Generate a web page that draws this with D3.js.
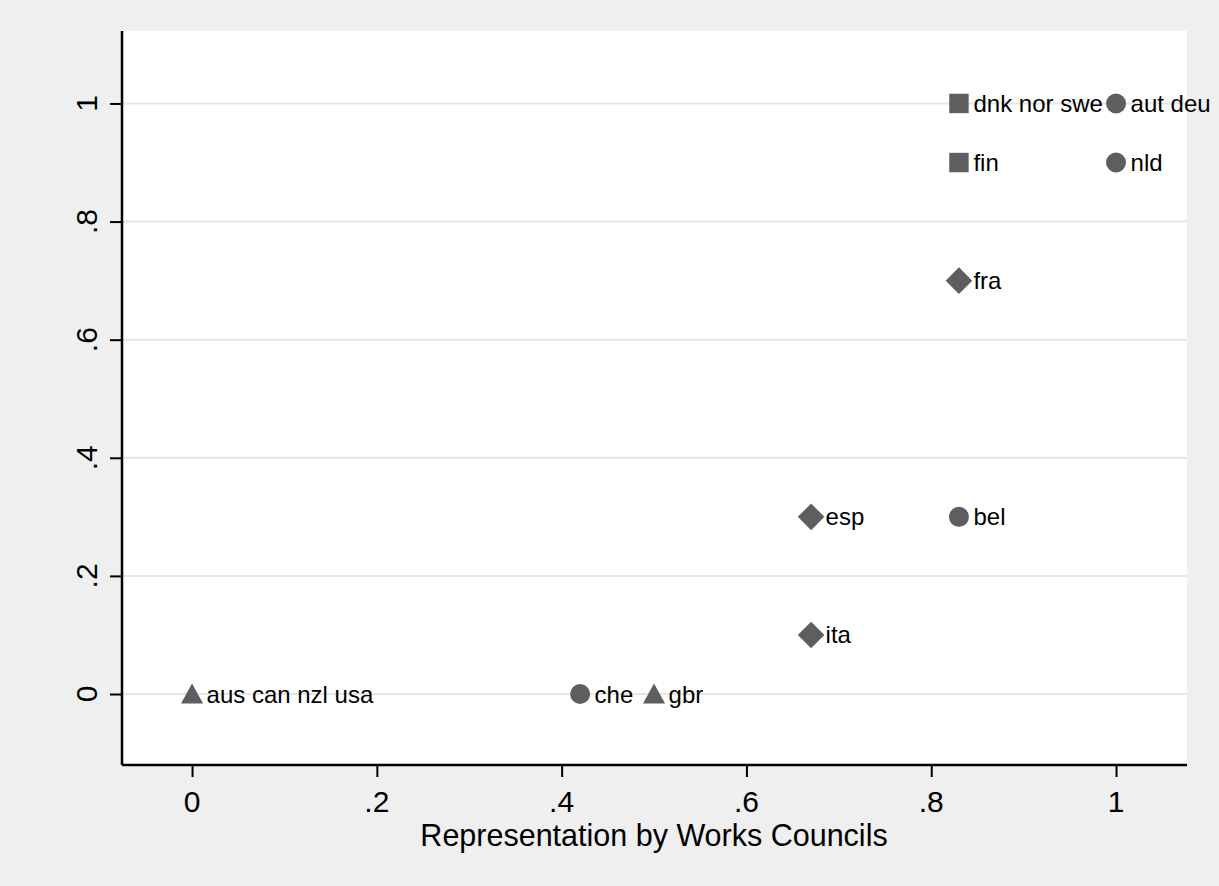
<!DOCTYPE html>
<html>
<head>
<meta charset="utf-8">
<script src="https://cdn.jsdelivr.net/npm/d3@7"></script>
<style>
  body { margin: 0; background: #efefef; }
  svg { display: block; }
</style>
</head>
<body>
<svg id="chart" width="1219" height="886"></svg>
<script>
// 数据：国家标签、x 值、y 值、标记形状
const labels = ['aus can nzl usa', 'che', 'gbr', 'ita', 'esp', 'bel', 'fra', 'fin', 'dnk nor swe', 'aut deu', 'nld'];
const xValues = [0, 0.42, 0.5, 0.67, 0.67, 0.83, 0.83, 0.83, 0.83, 1, 1];
const yValues = [0, 0, 0, 0.1, 0.3, 0.3, 0.7, 0.9, 1, 1, 0.9];
const shapes = ['triangle', 'circle', 'triangle', 'diamond', 'diamond', 'circle', 'diamond', 'square', 'square', 'circle', 'circle'];
const xTicks = [0, 0.2, 0.4, 0.6, 0.8, 1];
const yTicks = [0, 0.2, 0.4, 0.6, 0.8, 1];
const xTitle = 'Representation by Works Councils';

const svg = d3.select('#chart');
const width = +svg.attr('width'), height = +svg.attr('height');
const font = 'Liberation Sans, Arial, sans-serif';

// 绘图区域
const plot = {left: 122, right: 1187, top: 31, bottom: 765};

// x: 0 -> 192, 1 -> 1116 ; y: 0 -> 693.5, 1 -> 103
const x = d3.scaleLinear().domain([-0.0758, 1.0768]).range([plot.left, plot.right]);
const y = d3.scaleLinear().domain([-0.1202, 1.1227]).range([plot.bottom, plot.top]);

const fmt = d => d === 0 ? '0' : d === 1 ? '1' : String(d).replace(/^0/, '');

svg.append('rect')
  .attr('width', width).attr('height', height)
  .attr('fill', '#efefef');

svg.append('rect')
  .attr('x', plot.left).attr('y', plot.top)
  .attr('width', plot.right - plot.left).attr('height', plot.bottom - plot.top)
  .attr('fill', '#ffffff');

// 网格线
svg.append('g')
  .selectAll('line')
  .data(yTicks)
  .join('line')
  .attr('x1', plot.left).attr('x2', plot.right)
  .attr('y1', d => y(d)).attr('y2', d => y(d))
  .attr('stroke', '#e6e6e6')
  .attr('stroke-width', 2);

// 坐标轴
const yAxis = svg.append('g')
  .attr('transform', `translate(${plot.left},0)`)
  .call(d3.axisLeft(y).tickValues(yTicks).tickSize(12).tickFormat(''));
yAxis.select('.domain').attr('d', `M0,${plot.top}V${plot.bottom}`).attr('stroke-width', 2.5);
yAxis.selectAll('.tick line').attr('stroke-width', 2);

const xAxis = svg.append('g')
  .attr('transform', `translate(0,${plot.bottom})`)
  .call(d3.axisBottom(x).tickValues(xTicks).tickSize(12).tickFormat(''));
xAxis.select('.domain').attr('d', `M${plot.left},0H${plot.right}`).attr('stroke-width', 2.5);
xAxis.selectAll('.tick line').attr('stroke-width', 2);

// 刻度标签
svg.append('g')
  .attr('font-family', font)
  .attr('font-size', 30)
  .selectAll('text')
  .data(xTicks)
  .join('text')
  .attr('x', d => x(d))
  .attr('y', 812)
  .attr('text-anchor', 'middle')
  .text(fmt);

svg.append('g')
  .attr('font-family', font)
  .attr('font-size', 30)
  .selectAll('text')
  .data(yTicks)
  .join('text')
  .attr('transform', d => `translate(97,${y(d)}) rotate(-90)`)
  .attr('text-anchor', 'middle')
  .text(fmt);

svg.append('text')
  .attr('x', (x(0) + x(1)) / 2)
  .attr('y', 846)
  .attr('text-anchor', 'middle')
  .attr('font-family', font)
  .attr('font-size', 30.5)
  .text(xTitle);

// 标记形状
const shapePath = {
  circle: 'M10,0A10,10 0 1,1 -10,0A10,10 0 1,1 10,0Z',
  square: 'M-9.7,-9.7H9.7V9.7H-9.7Z',
  triangle: 'M0,-10.5L11,9.5H-11Z',
  diamond: 'M0,-13.3L13.3,0L0,13.3L-13.3,0Z'
};

const points = labels.map((l, i) => ({label: l, x: xValues[i], y: yValues[i], shape: shapes[i]}));

svg.append('g')
  .selectAll('path')
  .data(points)
  .join('path')
  .attr('transform', d => `translate(${x(d.x)},${y(d.y)})`)
  .attr('d', d => shapePath[d.shape])
  .attr('fill', '#5e5e5e');

svg.append('g')
  .attr('font-family', font)
  .attr('font-size', 24)
  .selectAll('text')
  .data(points)
  .join('text')
  .attr('x', d => x(d.x) + 14.5)
  .attr('y', d => y(d.y) + 8.5)
  .text(d => d.label);
</script>
</body>
</html>
